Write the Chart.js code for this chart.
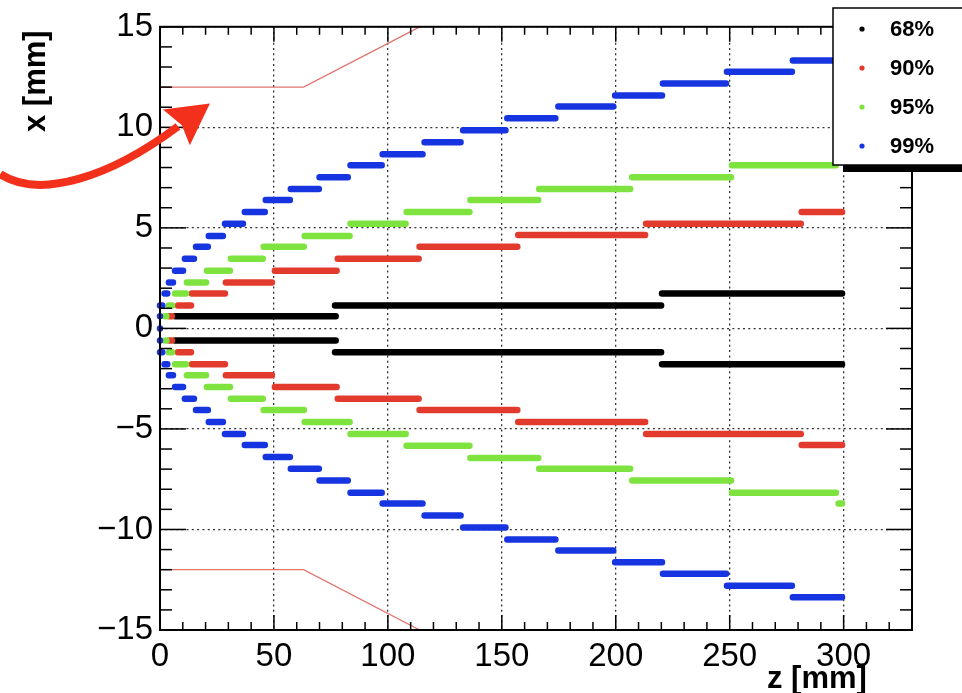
<!DOCTYPE html>
<html lang="en">
<head>
  <meta charset="UTF-8" />
  <title>Containment contours</title>
  <script src="https://cdn.jsdelivr.net/npm/chart.js"></script>
  <style>
    html, body { margin: 0; padding: 0; background: #fff; }
    canvas { display: block; }
  </style>
</head>
<body>
  <canvas id="contours" width="962" height="693"></canvas>

  <script>
    // axis ticks
    const xTicks = [0, 50, 100, 150, 200, 250, 300];
    const yTicks = [-15, -10, -5, 0, 5, 10, 15];

    const seriesLabels = ['68%', '90%', '95%', '99%'];
    const seriesColors = ['#000000', '#e23b2e', '#7fe33f', '#1634e0'];

    // 68% : segment start / end in z, level in x (upper and lower branch)
    const blackStart = [6.6, 76.8, 220.3];
    const blackEnd   = [77.1, 219.9, 299.3];
    const blackUp    = [0.6, 1.14, 1.73];
    const blackDown  = [-0.6, -1.19, -1.78];

    // 90%
    const redStart = [4, 7.9, 14, 28.9, 50.4, 78, 113.9, 157.2, 213.3, 281.6];
    const redEnd   = [5.2, 13.6, 28.5, 49.1, 77.5, 113.5, 156.8, 212.9, 281.2, 299.3];
    const redUp    = [0.6, 1.14, 1.73, 2.28, 2.87, 3.47, 4.06, 4.65, 5.2, 5.79];
    const redDown  = [-0.6, -1.19, -1.78, -2.33, -2.92, -3.5, -4.06, -4.65, -5.25, -5.8];

    // 95%
    const greenStart = [2.2, 3.9, 6.6, 11.8, 20.6, 31.1, 45.5, 63.5, 83.6, 108.2, 136.2, 166.4, 207.2, 251, 297.8];
    const greenEnd   = [2.8, 5.3, 11.4, 20.2, 30.7, 45.1, 63.1, 83.2, 107.8, 135.8, 166, 206.3, 250.6, 296.6, 299.3];
    const greenUp    = [0.6, 1.14, 1.73, 2.28, 2.87, 3.47, 4.06, 4.6, 5.2, 5.79, 6.39, 6.93, 7.52, 8.12, 8.71];
    const greenDown  = [-0.6, -1.19, -1.78, -2.33, -2.92, -3.5, -4.06, -4.65, -5.25, -5.84, -6.44, -6.98, -7.57, -8.17, -8.71];

    // 99%
    const blueStart = [0, 0, 0, 2, 3.9, 6.6, 10.9, 15.8, 21.4, 28.5, 37.2, 46.4, 57.4, 70, 83.6, 97.7, 116.1, 133, 152.4, 174.8, 199.7, 220.7, 248.8, 277.7];
    const blueEnd   = [0.3, 0.3, 1, 3.2, 5.7, 10.1, 14.9, 21, 27.6, 36.4, 46, 57, 69.7, 82.4, 97.3, 115.2, 131.9, 151.6, 173.5, 198.9, 220.3, 248.4, 277.3, 299.3];
    const blueUp    = [0, 0.6, 1.14, 1.73, 2.28, 2.87, 3.47, 4.06, 4.6, 5.2, 5.79, 6.39, 6.93, 7.52, 8.12, 8.66, 9.26, 9.85, 10.45, 11.04, 11.58, 12.18, 12.77, 13.32];
    const blueDown  = [0, -0.6, -1.19, -1.78, -2.33, -2.92, -3.5, -4.06, -4.65, -5.25, -5.8, -6.39, -6.98, -7.57, -8.17, -8.71, -9.3, -9.9, -10.5, -11.04, -11.63, -12.2, -12.8, -13.37];

    // thin red outline (beam pipe)
    const pipeZ    = [0, 63, 114];
    const pipeUp   = [12, 12, 15];
    const pipeDown = [-12, -12, -15];

    // annotation arrow, in data units
    const arrowZ = [-70.1, -52.6, -21.9, 7.9];
    const arrowX = [7.67, 6.4, 7.52, 10.05];
    const headZ  = [1.3, 21.9, 13.1, 9.6];
    const headX  = [10.89, 11.19, 9.11, 10.1];

    const FONT = "'Liberation Sans', Arial, Helvetica, sans-serif";

    function segData(start, end, lev) {
      const pts = [];
      for (let i = 0; i < start.length; i++) {
        pts.push({ x: start[i], y: lev[i] }, { x: end[i], y: lev[i] }, { x: end[i], y: null });
      }
      return pts;
    }

    function stepSet(i, start, end, up, down) {
      return {
        label: seriesLabels[i],
        data: segData(start, end, up).concat(segData(start, end, down)),
        borderColor: seriesColors[i],
        backgroundColor: seriesColors[i],
        borderWidth: 6.5,
        borderCapStyle: 'round',
        pointRadius: 0,
        showLine: true,
        spanGaps: false,
        clip: 6,
        order: 4 - i
      };
    }

    function pipeSet(lev) {
      return {
        label: 'pipe',
        data: pipeZ.map((z, i) => ({ x: z, y: lev[i] })),
        borderColor: '#e27470',
        borderWidth: 1.3,
        pointRadius: 0,
        showLine: true,
        order: 10
      };
    }

    function line(ctx, x1, y1, x2, y2) {
      ctx.beginPath();
      ctx.moveTo(x1, y1);
      ctx.lineTo(x2, y2);
      ctx.stroke();
    }

    const decor = {
      id: 'decor',
      afterDatasetsDraw(chart) {
        const ctx = chart.ctx;
        const xs = chart.scales.x, ys = chart.scales.y;
        const { left, right, top, bottom } = chart.chartArea;
        ctx.save();
        ctx.strokeStyle = '#000';
        ctx.lineWidth = 1.5;
        for (let v = 0; v <= 330; v += 10) {
          const p = xs.getPixelForValue(v);
          const len = v % 50 === 0 ? 15 : 8;
          line(ctx, p, bottom, p, bottom - len);
          line(ctx, p, top, p, top + len);
        }
        for (let v = -15; v <= 15; v += 1) {
          const p = ys.getPixelForValue(v);
          const len = v % 5 === 0 ? 26 : 12;
          line(ctx, left, p, left + len, p);
          line(ctx, right, p, right - len, p);
        }
        ctx.lineWidth = 2;
        ctx.strokeRect(left, top, right - left, bottom - top);
        ctx.restore();
      },
      afterDraw(chart) {
        const ctx = chart.ctx;
        const xs = chart.scales.x, ys = chart.scales.y;
        const { right } = chart.chartArea;
        ctx.save();

        // legend with shadow
        const lx = right - 79, ly = 8, lw = 140, lh = 157;
        ctx.fillStyle = '#000';
        ctx.fillRect(lx + 10, ly + lh, lw, 7);
        ctx.fillStyle = '#fff';
        ctx.fillRect(lx, ly, lw, lh);
        ctx.strokeStyle = '#000';
        ctx.lineWidth = 1.5;
        ctx.strokeRect(lx, ly, lw, lh);
        ctx.font = 'bold 22px ' + FONT;
        ctx.textBaseline = 'middle';
        ctx.textAlign = 'left';
        seriesLabels.forEach((lab, i) => {
          const cy = ly + 21 + i * 39;
          ctx.fillStyle = seriesColors[i];
          ctx.beginPath();
          ctx.arc(lx + 29, cy, 2.6, 0, Math.PI * 2);
          ctx.fill();
          ctx.fillStyle = '#000';
          ctx.fillText(lab, lx + 57, cy + 1);
        });

        // axis titles
        ctx.font = 'bold 31px ' + FONT;
        ctx.textBaseline = 'alphabetic';
        ctx.fillStyle = '#000';
        ctx.save();
        ctx.translate(45, 132);
        ctx.rotate(-Math.PI / 2);
        ctx.fillText('x [mm]', 0, 0);
        ctx.restore();
        ctx.fillText('z [mm]', 767, 688);

        // red arrow
        const px = z => xs.getPixelForValue(z);
        const py = v => ys.getPixelForValue(v);
        ctx.strokeStyle = '#f2301b';
        ctx.fillStyle = '#f2301b';
        ctx.lineWidth = 8;
        ctx.lineCap = 'butt';
        ctx.beginPath();
        ctx.moveTo(px(arrowZ[0]), py(arrowX[0]));
        ctx.bezierCurveTo(px(arrowZ[1]), py(arrowX[1]), px(arrowZ[2]), py(arrowX[2]), px(arrowZ[3]), py(arrowX[3]));
        ctx.stroke();
        ctx.beginPath();
        ctx.moveTo(px(headZ[0]), py(headX[0]));
        for (let i = 1; i < headZ.length; i++) ctx.lineTo(px(headZ[i]), py(headX[i]));
        ctx.closePath();
        ctx.fill();

        ctx.restore();
      }
    };

    new Chart(document.getElementById('contours').getContext('2d'), {
      type: 'scatter',
      data: {
        datasets: [
          stepSet(0, blackStart, blackEnd, blackUp, blackDown),
          stepSet(1, redStart, redEnd, redUp, redDown),
          stepSet(2, greenStart, greenEnd, greenUp, greenDown),
          stepSet(3, blueStart, blueEnd, blueUp, blueDown),
          pipeSet(pipeUp),
          pipeSet(pipeDown)
        ]
      },
      options: {
        responsive: false,
        animation: false,
        devicePixelRatio: 1,
        layout: { padding: { left: 0, top: 23, right: 50, bottom: 0 } },
        plugins: {
          legend: { display: false },
          tooltip: { enabled: false }
        },
        scales: {
          x: {
            type: 'linear',
            min: 0,
            max: 330,
            afterBuildTicks: s => { s.ticks = xTicks.map(v => ({ value: v })); },
            afterFit: s => { s.height = 63; },
            grid: { color: '#333', lineWidth: 1.3, drawTicks: false },
            border: { display: false, dash: [2, 3.3] },
            ticks: { color: '#000', padding: 7, maxRotation: 0, font: { family: FONT, size: 33 } }
          },
          y: {
            type: 'linear',
            min: -15,
            max: 15,
            afterBuildTicks: s => { s.ticks = yTicks.map(v => ({ value: v })); },
            afterFit: s => { s.width = 160; },
            grid: { color: '#333', lineWidth: 1.3, drawTicks: false },
            border: { display: false, dash: [2, 3.3] },
            ticks: {
              color: '#000',
              padding: 7,
              font: { family: FONT, size: 33 },
              callback: v => String(v).replace('-', '\u2212')
            }
          }
        }
      },
      plugins: [decor]
    });
  </script>
</body>
</html>
